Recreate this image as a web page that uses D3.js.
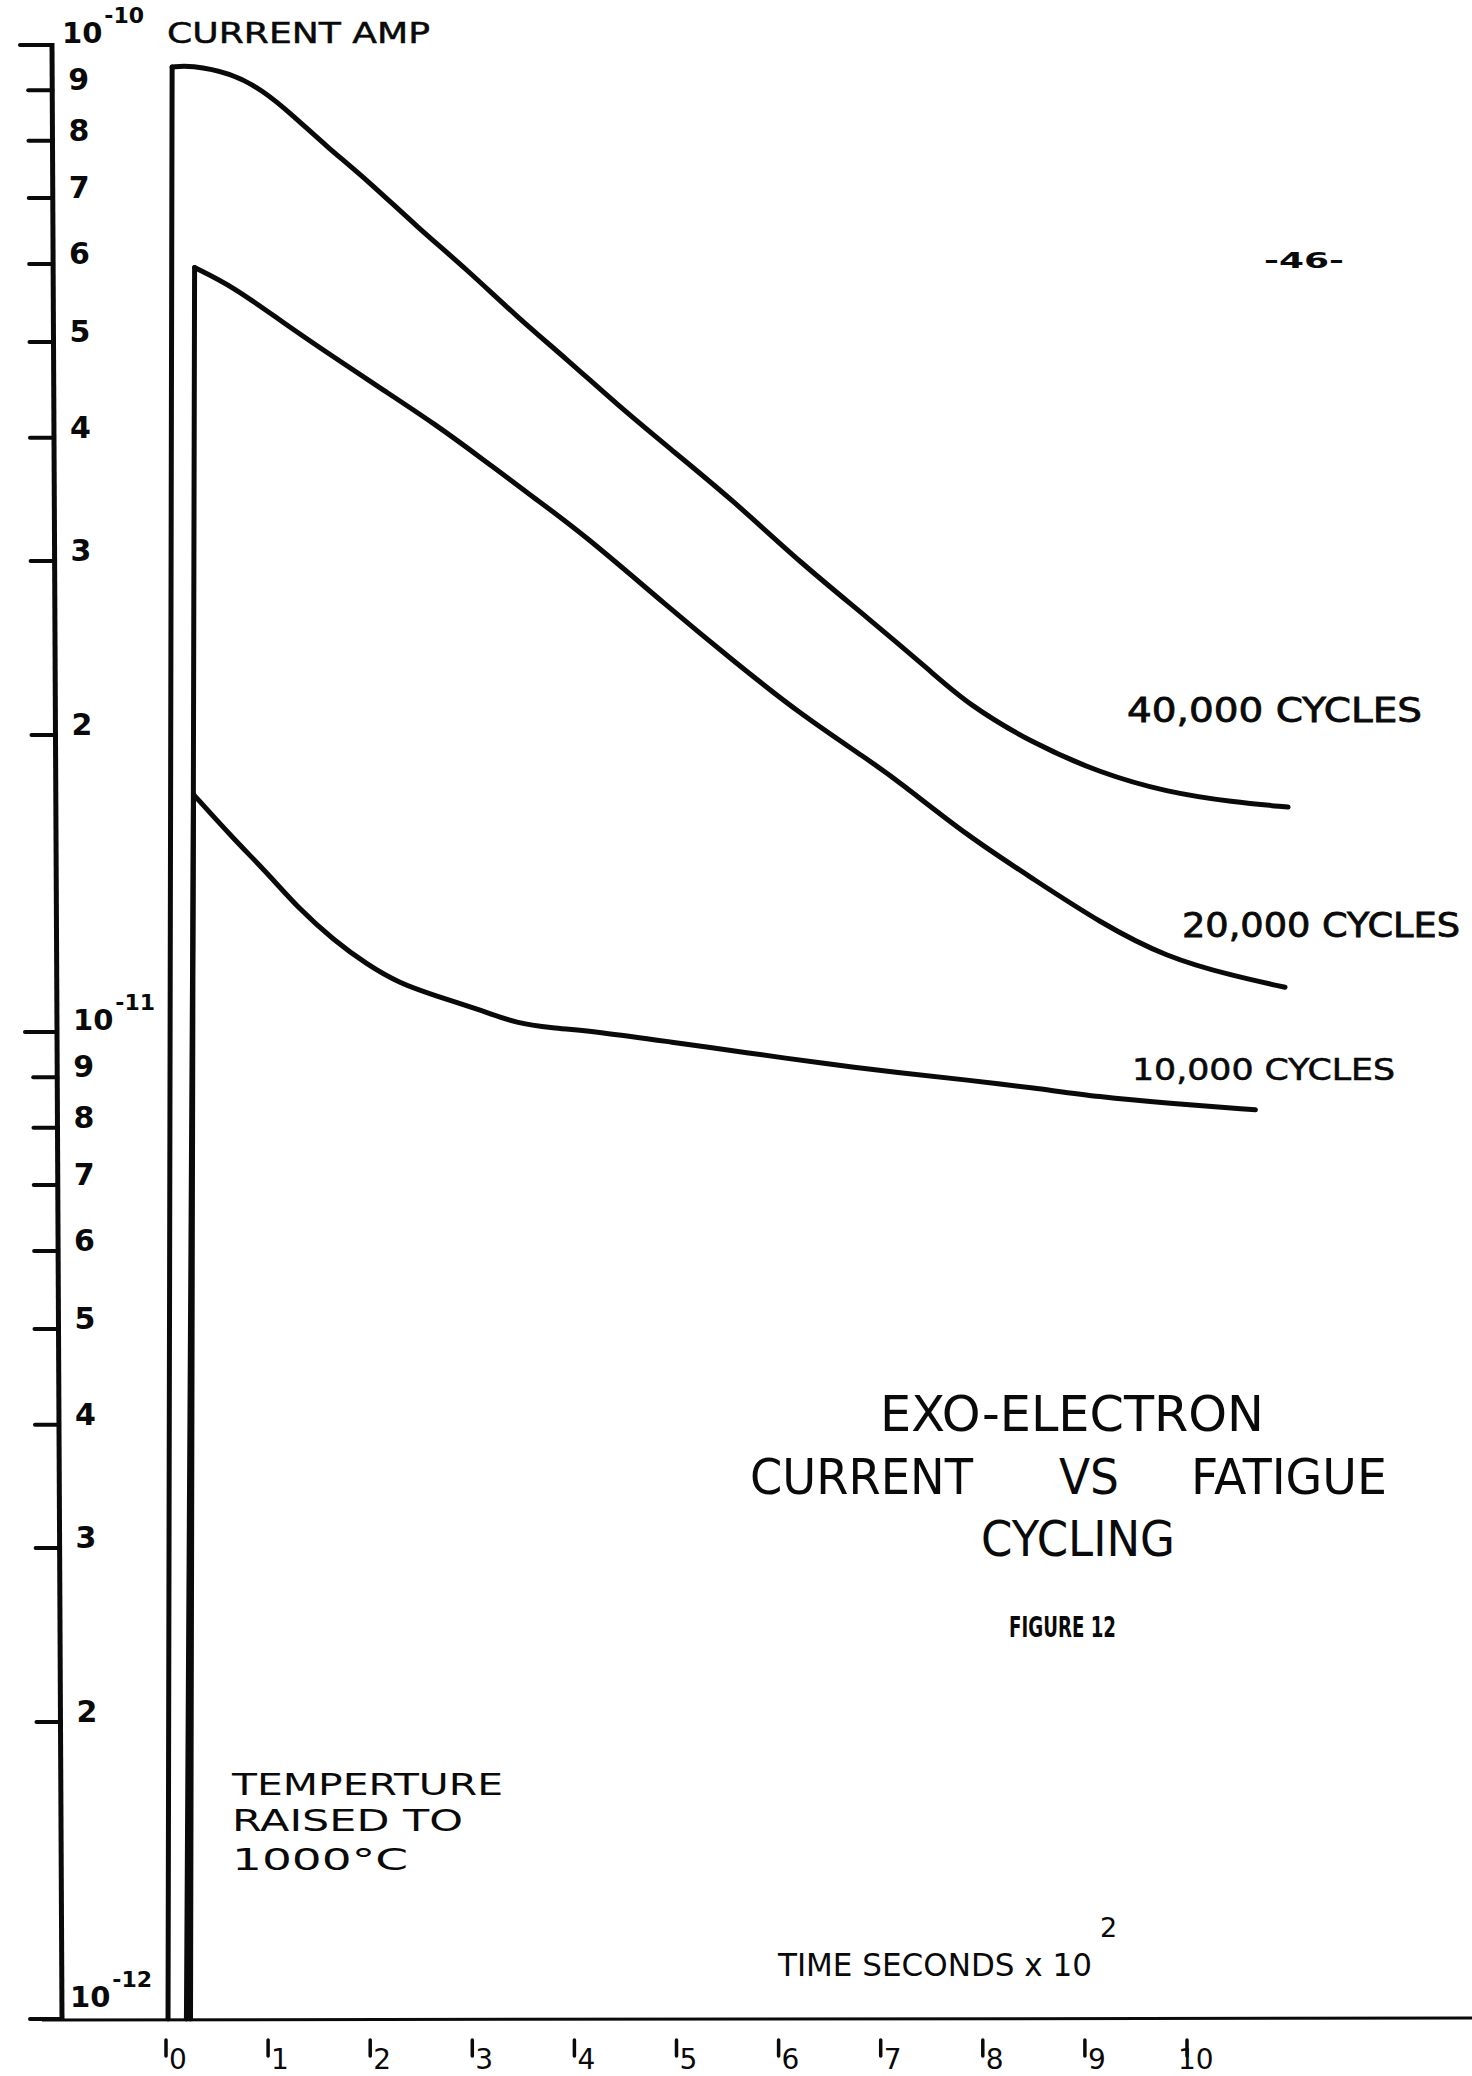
<!DOCTYPE html>
<html>
<head>
<meta charset="utf-8">
<script src="https://cdn.jsdelivr.net/npm/d3@7"></script>
<style>
  body { margin: 0; background: #fff; }
  svg { display: block; }
</style>
</head>
<body>
<div id="chart"></div>
<script>
// data (time in seconds x 10^2, current in amp)
var xTicks = [0, 1, 2, 3, 4, 5, 6, 7, 8, 9, 10]
var yDecades = [-12, -11, -10]
var yMinor = [2, 3, 4, 5, 6, 7, 8, 9]

var t40k = [0.02, 0.06, 0.24, 0.63, 0.95, 1.24, 1.58, 1.97, 2.46, 2.95, 3.44, 3.93, 4.42, 4.91, 5.55, 6.21, 6.87, 7.51, 7.85, 8.49, 9.15, 9.80, 10.45, 10.99]
var i40k = [1e-12, 9.50e-11, 9.54e-11, 9.37e-11, 9.00e-11, 8.49e-11, 7.88e-11, 7.30e-11, 6.54e-11, 5.92e-11, 5.30e-11, 4.80e-11, 4.32e-11, 3.92e-11, 3.46e-11, 2.99e-11, 2.63e-11, 2.31e-11, 2.15e-11, 1.96e-11, 1.83e-11, 1.75e-11, 1.71e-11, 1.69e-11]

var t20k = [0.24, 0.28, 0.66, 1.15, 1.64, 2.13, 2.62, 3.11, 3.60, 4.08, 4.91, 5.55, 6.21, 6.87, 7.19, 7.85, 8.49, 9.15, 9.80, 10.45, 10.96]
var i20k = [1e-12, 5.95e-11, 5.69e-11, 5.23e-11, 4.83e-11, 4.47e-11, 4.14e-11, 3.80e-11, 3.48e-11, 3.20e-11, 2.70e-11, 2.38e-11, 2.10e-11, 1.89e-11, 1.79e-11, 1.58e-11, 1.43e-11, 1.29e-11, 1.19e-11, 1.14e-11, 1.11e-11]

var t10k = [0.20, 0.27, 0.66, 0.99, 1.31, 1.64, 1.97, 2.29, 2.62, 3.11, 3.44, 3.76, 4.25, 4.94, 5.72, 6.41, 7.19, 7.85, 8.49, 9.15, 9.80, 10.67]
var i10k = [1e-12, 1.74e-11, 1.57e-11, 1.45e-11, 1.33e-11, 1.24e-11, 1.17e-11, 1.12e-11, 1.09e-11, 1.05e-11, 1.02e-11, 1.01e-11, 1.00e-11, 9.77e-12, 9.52e-12, 9.30e-12, 9.09e-12, 8.94e-12, 8.78e-12, 8.59e-12, 8.47e-12, 8.34e-12]

var seriesNames = ["40,000 CYCLES", "20,000 CYCLES", "10,000 CYCLES"]

var width = 1472, height = 2076
var ink = "#0a0a0a"

var svg = d3.select("#chart")
    .append("svg")
    .attr("width", width)
    .attr("height", height)

svg.append("rect").attr("width", width).attr("height", height).attr("fill", "#fff")

// scales
var scale_x = d3.scaleLinear()
    .domain([0, 10])
    .range([166, 1187])

var scale_y = d3.scaleLog()
    .domain([1e-12, 1e-10])
    .range([2019, 45])

// the hand drawn y axis leans a little to the right going down
function axisX(y) { return 52 + (y - 45) * 10 / 1975 }

// little helper for squeezed lettering
function label(x, y, str, size, len, opts) {
    opts = opts || {}
    var t = svg.append("text")
        .attr("x", x)
        .attr("y", y)
        .attr("font-family", opts.family || "'DejaVu Sans', sans-serif")
        .attr("font-size", size)
        .attr("font-weight", opts.weight || "normal")
        .attr("fill", ink)
        .text(str)
    if (len) t.attr("textLength", len).attr("lengthAdjust", "spacingAndGlyphs")
    if (opts.stroke) t.attr("stroke", ink).attr("stroke-width", opts.stroke)
    return t
}

// base text with a raised exponent, kept in one text element
function powerLabel(x, y, base, sup, size, supSize, rise, gap, weight) {
    var t = svg.append("text")
        .attr("x", x)
        .attr("y", y)
        .attr("font-family", "'DejaVu Sans', sans-serif")
        .attr("font-weight", weight || "normal")
        .attr("fill", ink)
    t.append("tspan").attr("font-size", size).text(base)
    t.append("tspan").attr("font-size", supSize).attr("dx", gap).attr("dy", -rise).text(sup)
    return t
}

// y axis line
svg.append("line")
    .attr("x1", axisX(43)).attr("y1", 43)
    .attr("x2", axisX(2019)).attr("y2", 2019)
    .attr("stroke", ink).attr("stroke-width", 5)

// x axis line
svg.append("line")
    .attr("x1", 42).attr("y1", 2020)
    .attr("x2", 1472).attr("y2", 2018)
    .attr("stroke", ink).attr("stroke-width", 3)

// y ticks: majors and minors
var yTickVals = []
yDecades.forEach(function(d) {
    yTickVals.push({v: Math.pow(10, d), major: true, d: d})
    if (d < -10) yMinor.forEach(function(m) { yTickVals.push({v: m * Math.pow(10, d), major: false, m: m}) })
})

svg.selectAll(".ytick")
    .data(yTickVals)
    .enter()
    .append("line")
    .attr("x1", d => axisX(scale_y(d.v)) - (d.major ? 32 : 24))
    .attr("x2", d => axisX(scale_y(d.v)))
    .attr("y1", d => scale_y(d.v))
    .attr("y2", d => scale_y(d.v))
    .attr("stroke", ink)
    .attr("stroke-width", 4)
    .attr("stroke-linecap", "round")

// minor tick labels
svg.selectAll(".ylab")
    .data(yTickVals.filter(d => !d.major))
    .enter()
    .append("text")
    .attr("x", d => axisX(scale_y(d.v)) + 16)
    .attr("y", d => scale_y(d.v))
    .attr("font-family", "'DejaVu Sans', sans-serif")
    .attr("font-weight", "bold")
    .attr("font-size", 30)
    .attr("fill", ink)
    .text(d => d.m)

// decade labels 10^-n
yTickVals.filter(d => d.major).forEach(function(d) {
    var y = scale_y(d.v)
    var base = d.d === -12 ? y - 12 : y - 2
    var x0 = d.d === -10 ? 62 : (d.d === -12 ? 70 : axisX(y) + 16)
    powerLabel(x0, base, "10", String(d.d), 29, 22, 20, 2, "bold")
})

// x ticks
svg.selectAll(".xtick")
    .data(xTicks)
    .enter()
    .append("line")
    .attr("x1", d => scale_x(d))
    .attr("x2", d => scale_x(d))
    .attr("y1", 2040)
    .attr("y2", 2056)
    .attr("stroke", ink)
    .attr("stroke-width", 3.5)
    .attr("stroke-linecap", "round")

svg.selectAll(".xlab")
    .data(xTicks)
    .enter()
    .append("text")
    .attr("x", d => scale_x(d) + (d === 10 ? -9 : 3))
    .attr("y", 2069)
    .attr("font-family", "'DejaVu Sans', sans-serif")
    .attr("font-size", 28)
    .attr("fill", ink)
    .text(d => d)

// curves: straight rise, then a smooth decay
var rise = d3.line()
    .x(d => scale_x(d[0]))
    .y(d => scale_y(d[1]))

var decay = d3.line()
    .x(d => scale_x(d[0]))
    .y(d => scale_y(d[1]))
    .curve(d3.curveBasis)

var series = [d3.zip(t40k, i40k), d3.zip(t20k, i20k), d3.zip(t10k, i10k)]

svg.selectAll(".rise")
    .data(series)
    .enter()
    .append("path")
    .attr("d", d => rise(d.slice(0, 2)))
    .attr("fill", "none")
    .attr("stroke", ink)
    .attr("stroke-width", 5)
    .attr("stroke-linecap", "round")

svg.selectAll(".decay")
    .data(series)
    .enter()
    .append("path")
    .attr("d", d => decay(d.slice(1)))
    .attr("fill", "none")
    .attr("stroke", ink)
    .attr("stroke-width", 5)
    .attr("stroke-linecap", "round")
    .attr("stroke-linejoin", "round")

// curve labels
label(1127, 722, seriesNames[0], 33, 295, {stroke: 0.8})
label(1182, 937, seriesNames[1], 33, 278, {stroke: 0.8})
label(1132, 1080, seriesNames[2], 31, 263, {stroke: 0.6})

// axis captions
label(167, 43, "CURRENT AMP", 29, 263, {stroke: 0.5})
label(778, 1976, "TIME SECONDS x 10", 32, 314)
label(1100, 1937, "2", 27, 0)

label(1264, 268, "-46-", 22, 80, {weight: "bold"})

// notes and title
label(232, 1795, "TEMPERTURE", 30, 271)
label(232, 1831, "RAISED TO", 30, 231)
label(232, 1870, "1000\u00b0C", 30, 176)

label(880, 1431, "EXO-ELECTRON", 50, 384)
label(750, 1494, "CURRENT", 50, 223)
label(1059, 1494, "VS", 50, 60)
label(1191, 1494, "FATIGUE", 50, 196)
label(981, 1556, "CYCLING", 50, 194)
label(1009, 1637, "FIGURE 12", 28, 107, {weight: "bold"})
</script>
</body>
</html>
